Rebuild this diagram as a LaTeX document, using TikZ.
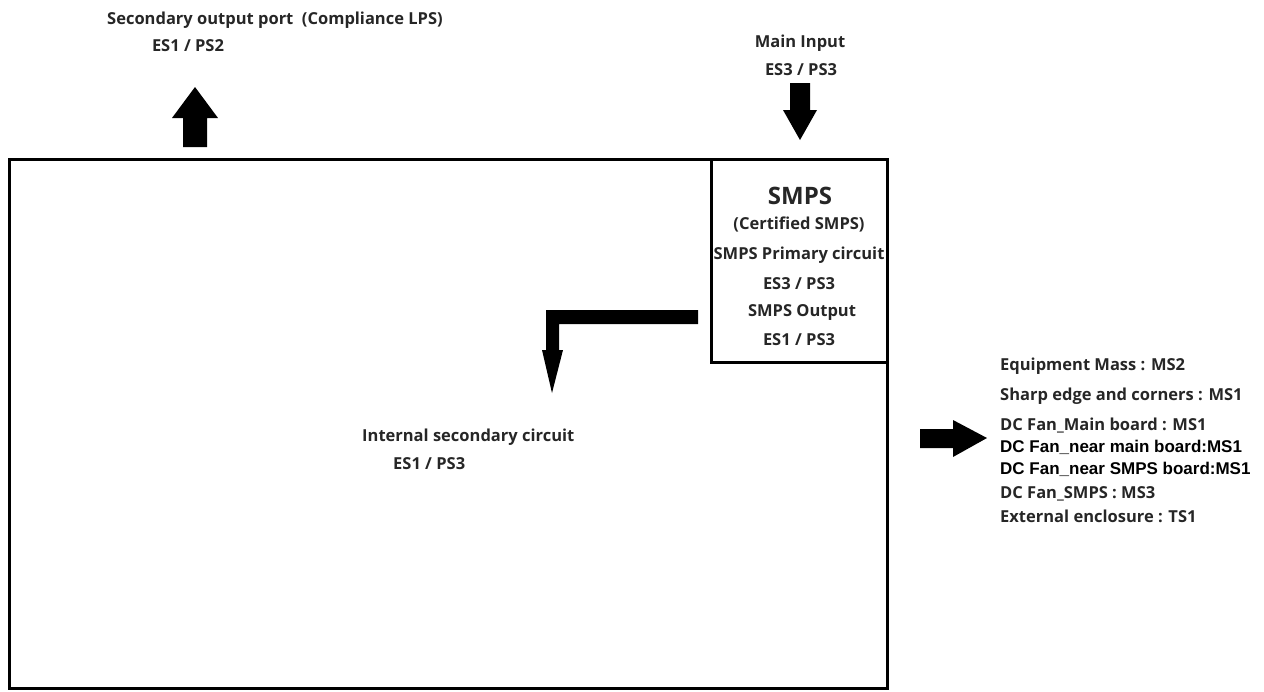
\documentclass[tikz,border=0pt]{standalone}
\usepackage{fontspec}
\setmainfont{Open Sans}
\newfontfamily\arialb{Liberation Sans}
\begin{document}
\begin{tikzpicture}[x=1pt,y=-1pt,
  lbl/.style={font=\bfseries\fontsize{16.5}{18}\selectfont, inner sep=0pt, text=black!85},
  lblA/.style={font=\arialb\bfseries\fontsize{17}{19}\selectfont, inner sep=0pt},
  box/.style={draw=black, line width=3pt},
  blk/.style={fill=black, draw=none}]
\useasboundingbox (0,0) rectangle (1264,691);
% boxes
\draw[box] (9,159) rectangle (887,688);
\draw[box] (711,159) rectangle (887,362);
% top-left arrow (up)
\fill[blk] (183,147) -- (207,147) -- (207,118) -- (218,118) -- (195,87) -- (172,118) -- (183,118) -- cycle;
% main input arrow (down)
\fill[blk] (790,83) -- (810,83) -- (810,110) -- (817,110) -- (800,140) -- (783,110) -- (790,110) -- cycle;
% L arrow
\fill[blk] (698,310) -- (698,324) -- (559,324) -- (559,350) -- (563,350) -- (552,393) -- (542,350) -- (546,350) -- (546,310) -- cycle;
% right arrow
\fill[blk] (920,429) -- (953,429) -- (953,420) -- (987,438) -- (953,457) -- (953,448) -- (920,448) -- cycle;
% top texts
\node[lbl, anchor=west] (sec) at (107,20) {Secondary output port\ \ (Compliance LPS)};
\node[lbl] (sec2) at (188,46) {ES1 / PS2};
\node[lbl] (mi) at (800,43) {Main Input};
\node[lbl] (mi2) at (801,70) {ES3 / PS3};
% SMPS box texts
\node[lbl, font=\bfseries\fontsize{24}{26}\selectfont] (smps) at (800,196) {SMPS};
\node[lbl] (cert) at (799,224) {(Certified SMPS)};
\node[lbl] (prim) at (799,255) {SMPS Primary circuit};
\node[lbl] (p2) at (799,284) {ES3 / PS3};
\node[lbl] (out) at (802,312) {SMPS Output};
\node[lbl] (o2) at (799,340) {ES1 / PS3};
% internal
\node[lbl, anchor=west] (int) at (362,437) {Internal secondary circuit};
\node[lbl, anchor=west] (int2) at (393,464) {ES1 / PS3};
% right list
\node[lbl, anchor=west] (r1) at (1000,366) {Equipment Mass : MS2};
\node[lbl, anchor=west] (r2) at (1000,396) {Sharp edge and corners : MS1};
\node[lbl, anchor=west] (r3) at (1000,426) {DC Fan\_Main board : MS1};
\node[lblA, anchor=west] (r4) at (1000,447) {DC Fan\_near main board:MS1};
\node[lblA, anchor=west] (r5) at (1000,469) {DC Fan\_near SMPS board:MS1};
\node[lbl, anchor=west] (r6) at (1000,494) {DC Fan\_SMPS : MS3};
\node[lbl, anchor=west] (r7) at (1000,516) {External enclosure : TS1};
\end{tikzpicture}
\end{document}
